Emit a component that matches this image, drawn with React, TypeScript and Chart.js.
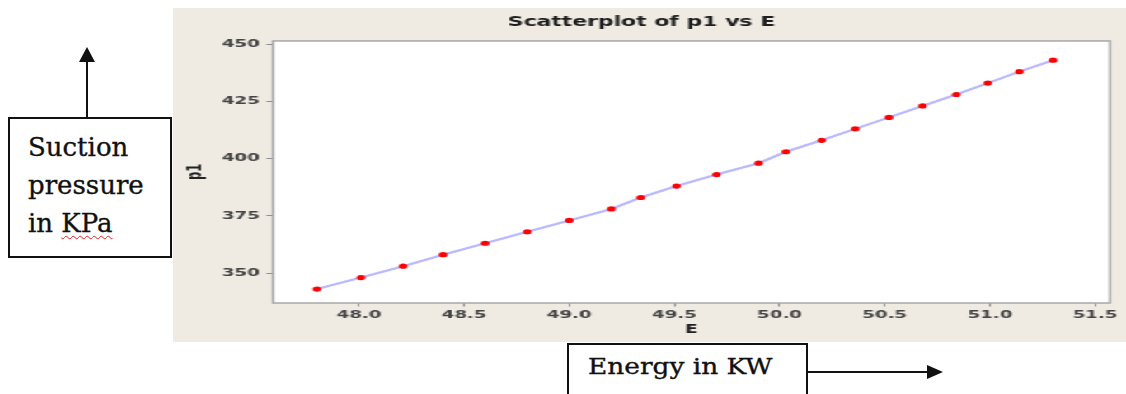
import React, { useEffect, useRef } from "react";
import { Chart, registerables } from "chart.js";

Chart.register(...registerables);

// ---- data ----
const E_VALUES = [
  47.8, 48.01, 48.21, 48.4, 48.6, 48.8, 49.0, 49.2, 49.34, 49.51, 49.7,
  49.9, 50.03, 50.2, 50.36, 50.52, 50.68, 50.84, 50.99, 51.14, 51.3,
];
const P1_VALUES = [
  343, 348, 353, 358, 363, 368, 373, 378, 383, 388, 393,
  398, 403, 408, 413, 418, 423, 428, 433, 438, 443,
];
const X_TICKS = [48.0, 48.5, 49.0, 49.5, 50.0, 50.5, 51.0, 51.5];
const Y_TICKS = [350, 375, 400, 425, 450];
const TITLE = "Scatterplot of p1 vs E";
const X_LABEL = "E";
const Y_LABEL = "p1";
const Y_NOTE = ["Suction", "pressure", "in "];
const Y_NOTE_ERR = "KPa";
const X_NOTE = "Energy in KW";

// ---- layout ----
const PANEL_LEFT = 173;
const PANEL_TOP = 8;
const PANEL_W = 953;
const PANEL_H = 334;
const CANVAS_W = 578;
const SX = PANEL_W / CANVAS_W;

const tickFont = { family: "'DejaVu Sans', Verdana, sans-serif", size: 11, weight: "bold" as const, lineHeight: 1.2 };
const axisTitleFont = { family: "'DejaVu Sans', Verdana, sans-serif", size: 11.5, weight: "bold" as const, lineHeight: 1.2 };

export default function App() {
  const ref = useRef<HTMLCanvasElement>(null);

  useEffect(() => {
    const canvas = ref.current;
    if (!canvas) return;

    const framePlugin = {
      id: "plotFrame",
      beforeDraw(chart: any) {
        const { ctx, chartArea: a } = chart;
        ctx.save();
        ctx.fillStyle = "#ffffff";
        ctx.fillRect(a.left, a.top, a.right - a.left, a.bottom - a.top);
        ctx.restore();
      },
      beforeDatasetsDraw(chart: any) {
        const { ctx, chartArea: a } = chart;
        ctx.save();
        ctx.strokeStyle = "#a8a8a8";
        ctx.lineWidth = 1.5;
        ctx.strokeRect(a.left, a.top, a.right - a.left, a.bottom - a.top);
        ctx.restore();
      },
    };

    const chart = new Chart(canvas, {
      type: "scatter",
      data: {
        datasets: [
          {
            data: E_VALUES.map((x, i) => ({ x, y: P1_VALUES[i] })),
            showLine: true,
            borderColor: "#b9b9ff",
            borderWidth: 2.2,
            pointRadius: 2.6,
            pointHoverRadius: 2.6,
            pointBackgroundColor: "#ff0000",
            pointBorderWidth: 0,
          },
        ],
      },
      options: {
        animation: false,
        responsive: false,
        devicePixelRatio: 1,
        events: [],
        layout: { padding: { left: 0, right: 9.7, top: 0, bottom: 0 } },
        plugins: {
          legend: { display: false },
          tooltip: { enabled: false },
          title: {
            display: true,
            text: TITLE,
            color: "#1e1e1e",
            font: { family: "'DejaVu Sans', Verdana, sans-serif", size: 13.3, weight: "bold", lineHeight: 1.2 },
            padding: { top: 6.7, bottom: 10.3 },
          },
        },
        scales: {
          x: {
            type: "linear",
            min: 47.591,
            max: 51.571,
            afterBuildTicks: (axis: any) => {
              axis.ticks = X_TICKS.map((v) => ({ value: v }));
            },
            afterFit: (axis: any) => {
              axis.height = 39;
            },
            ticks: {
              font: tickFont,
              color: "#444444",
              padding: 2.4,
              maxRotation: 0,
              autoSkip: false,
              callback: (v: any) => Number(v).toFixed(1),
            },
            grid: { drawOnChartArea: false, drawTicks: true, tickLength: 3.5, color: "#8c8c8c" },
            border: { display: false },
            title: {
              display: true,
              text: X_LABEL,
              color: "#222222",
              font: axisTitleFont,
              padding: { top: 0, bottom: 4.6 },
            },
          },
          y: {
            type: "linear",
            min: 336.9,
            max: 451.4,
            afterBuildTicks: (axis: any) => {
              axis.ticks = Y_TICKS.map((v) => ({ value: v }));
            },
            afterFit: (axis: any) => {
              axis.width = 60.65;
            },
            ticks: {
              font: tickFont,
              color: "#444444",
              padding: 4,
              autoSkip: false,
              callback: (v: any) => String(v),
            },
            grid: { drawOnChartArea: false, drawTicks: true, tickLength: 4, color: "#8c8c8c" },
            border: { display: false },
            title: {
              display: true,
              text: Y_LABEL,
              color: "#222222",
              font: axisTitleFont,
              padding: { top: 7.1, bottom: 0 },
            },
          },
        },
      },
      plugins: [framePlugin],
    } as any);

    return () => {
      chart.destroy();
    };
  }, []);

  const serif = "'DejaVu Serif', 'Liberation Serif', serif";

  return (
    <div>
      {/* chart panel (image in the reference is stretched horizontally) */}
      <div
        style={{
          position: "absolute",
          left: PANEL_LEFT,
          top: PANEL_TOP,
          width: CANVAS_W,
          height: PANEL_H,
          background: "#efebe3",
          transform: `scaleX(${SX})`,
          transformOrigin: "0 0",
        }}
      >
        <canvas ref={ref} width={CANVAS_W} height={PANEL_H} />
      </div>

      {/* y annotation box */}
      <div
        style={{
          position: "absolute",
          left: 8,
          top: 117,
          width: 164,
          height: 141,
          boxSizing: "border-box",
          border: "2px solid #111",
          background: "#ffffff",
          fontFamily: serif,
          fontSize: 26,
          lineHeight: "38px",
          padding: "9px 0 0 18px",
          color: "#111",
          whiteSpace: "nowrap",
          WebkitTextStroke: "0.35px #111",
        }}
      >
        {Y_NOTE[0]}
        <br />
        {Y_NOTE[1]}
        <br />
        {Y_NOTE[2]}
        <span style={{ textDecoration: "underline wavy #e02020", textDecorationThickness: 1, textUnderlineOffset: 3 }}>
          {Y_NOTE_ERR}
        </span>
      </div>
      <svg
        style={{ position: "absolute", left: 70, top: 40, overflow: "visible" }}
        width={40}
        height={80}
      >
        <line x1={17} y1={18} x2={17} y2={77} stroke="#111" strokeWidth={2} />
        <polygon points="17,7 9,22 25,22" fill="#111" />
      </svg>

      {/* x annotation box */}
      <div
        style={{
          position: "absolute",
          left: 567,
          top: 343,
          width: 241,
          height: 70,
          boxSizing: "border-box",
          border: "2px solid #111",
          background: "#ffffff",
          fontFamily: serif,
          fontSize: 22,
          lineHeight: "30px",
          padding: "7px 0 0 19px",
          color: "#111",
          whiteSpace: "nowrap",
          WebkitTextStroke: "0.35px #111",
        }}
      >
        <span style={{ display: "inline-block", transform: "scaleX(1.2)", transformOrigin: "0 50%" }}>{X_NOTE}</span>
      </div>
      <svg style={{ position: "absolute", left: 808, top: 360, overflow: "visible" }} width={140} height={24}>
        <line x1={0} y1={12} x2={122} y2={12} stroke="#111" strokeWidth={2} />
        <polygon points="135,12 119,5 119,19" fill="#111" />
      </svg>
    </div>
  );
}
